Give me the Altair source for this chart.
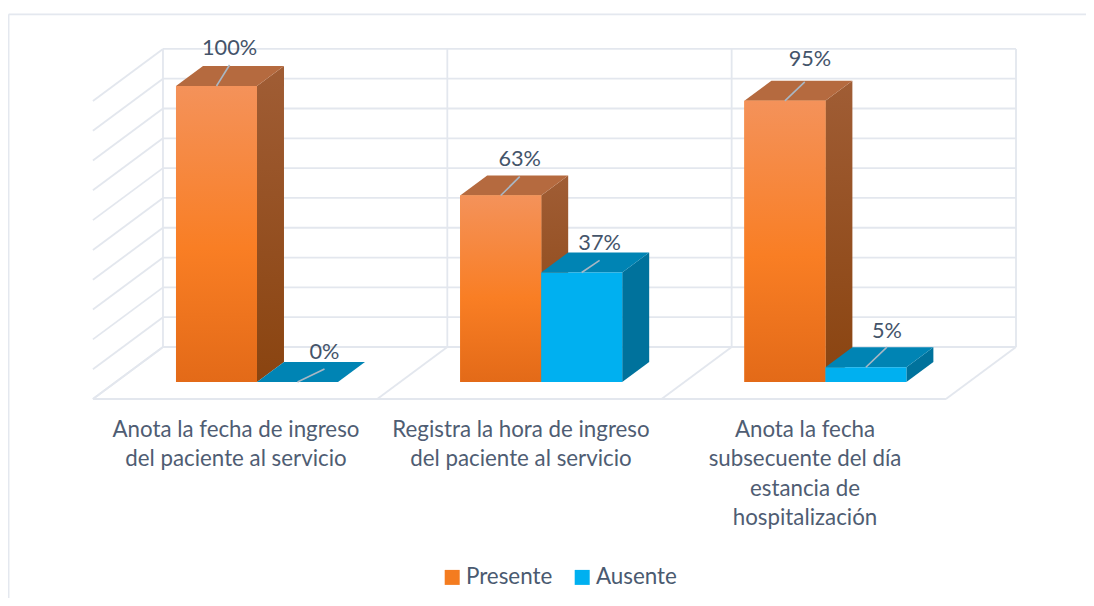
import altair as alt
import pandas as pd

categories = ["Anota la fecha de ingreso\ndel paciente al servicio",
              "Registra la hora de ingreso\ndel paciente al servicio",
              "Anota la fecha\nsubsecuente del día\nestancia de\nhospitalización"]
series = ["Presente", "Ausente"]
presente = [100, 63, 95]
ausente = [0, 37, 5]
presente_labels = ["100%", "63%", "95%"]
ausente_labels = ["0%", "37%", "5%"]
# leader line run/rise per bar, in group-widths and percentage points
lead_presente = [(0.046, 7.1), (0.067, 6.4), (0.070, 6.4)]
lead_ausente = [(0.095, 4.4), (0.063, 4.1), (0.074, 6.8)]
label_shift_presente = [(0.0, 5.7), (0.0, 6.0), (0.018, 7.7)]
label_shift_ausente = [(0.0, 5.7), (0.0, 6.0), (0.0, 5.4)]

FONT = "Lato"
GRID = "#e3e7ee"
TXT = "#44546a"
BAR_W = 0.285
DEPTH_U, DEPTH_V = 0.095, 6.76
WALL_U, WALL_V = 0.2465, 17.57
FLOOR_U, FLOOR_V = -0.2923, -5.74
TICK = 10.07
N = len(categories)

xs = alt.Scale(domain=[-0.5911, 3.2020], nice=False, zero=False)
ys = alt.Scale(domain=[-72.97, 126.35], nice=False, zero=False)
X = alt.X("x:Q", scale=xs, axis=None)
Y = alt.Y("y:Q", scale=ys, axis=None)

# grid, walls and frame
segs = []
back_u0 = FLOOR_U + WALL_U
back_v0 = FLOOR_V + WALL_V
back_step = 1.0005
for k in range(11):
    v = back_v0 + k * TICK
    segs.append((back_u0, v, back_u0 + N * back_step, v))
    segs.append((FLOOR_U, v - WALL_V, back_u0, v))
for i in range(N + 1):
    u = back_u0 + i * back_step
    segs.append((u, back_v0, u, back_v0 + 10 * TICK))
    segs.append((u, back_v0, u - WALL_U, FLOOR_V))
segs.append((FLOOR_U, FLOOR_V, back_u0 + N * back_step - WALL_U, FLOOR_V))
grid_df = pd.DataFrame(segs, columns=["x", "y", "x2", "y2"])
grid = alt.Chart(grid_df).mark_rule(color=GRID, strokeWidth=1.8).encode(x=X, y=Y, x2="x2:Q", y2="y2:Q")

frame_df = pd.DataFrame([(-0.589, 124.2, 3.2020, 124.2), (-0.589, 124.2, -0.589, -72.97)], columns=["x", "y", "x2", "y2"])
frame = alt.Chart(frame_df).mark_rule(color="#e4e8ef", strokeWidth=1.8).encode(x=X, y=Y, x2="x2:Q", y2="y2:Q")


def faces(values, offset):
    front, side, top = [], [], []
    for i, v in enumerate(values):
        x0 = i + offset
        x1 = x0 + BAR_W
        front.append(dict(x=x0, x2=x1, y=v, y2=0, s=series[0 if offset == 0 else 1]))
        side += [dict(id=i, x=x1, y=v, y2=0), dict(id=i, x=x1 + DEPTH_U, y=v + DEPTH_V, y2=DEPTH_V)]
        top += [dict(id=i, x=x0, y=v, y2=v),
                dict(id=i, x=x0 + DEPTH_U, y=v + DEPTH_V, y2=v),
                dict(id=i, x=x1, y=v + DEPTH_V, y2=v),
                dict(id=i, x=x1 + DEPTH_U, y=v + DEPTH_V, y2=v + DEPTH_V)]
    return pd.DataFrame(front), pd.DataFrame(side), pd.DataFrame(top)


def grad(*stops):
    return alt.Gradient(gradient="linear", x1=0, x2=0, y1=0, y2=1,
                        stops=[alt.GradientStop(offset=o, color=c) for o, c in stops])


def area(df, fill):
    return alt.Chart(df).mark_area(fill=fill, interpolate="linear", opacity=1).encode(
        x=X, y=Y, y2="y2:Q", detail="id:N")


color_scale = alt.Scale(domain=series, range=["#f47c20", "#00b0f0"])
legend = alt.Legend(title=None, orient="none", legendX=433, legendY=558, direction="horizontal",
                    symbolType="square", symbolSize=225, symbolStrokeWidth=0, labelFont=FONT, labelFontSize=22.4,
                    labelColor="#4a5a70", columnPadding=18, labelOffset=2.5, symbolOpacity=1)

of, os_, ot = faces(presente, 0)
af, as_, at = faces(ausente, BAR_W)

orange_side = area(os_, grad((0, "#a05d35"), (1, "#8a4410")))
orange_top = area(ot, "#b56a3f")
orange_front = alt.Chart(of).mark_rect().encode(x=X, x2="x2:Q", y=Y, y2="y2:Q", color=alt.Color("s:N", scale=color_scale, legend=legend))
orange_grad = alt.Chart(of).mark_rect(fill=grad((0, "#f4925a"), (0.55, "#f97e24"), (1, "#e36a18"))).encode(x=X, x2="x2:Q", y=Y, y2="y2:Q")
blue_side = area(as_, "#00729c")
blue_top = area(at, "#0084b4")
blue_front = alt.Chart(af).mark_rect().encode(x=X, x2="x2:Q", y=Y, y2="y2:Q", color=alt.Color("s:N", scale=color_scale, legend=legend))

leads, labels = [], []
for i in range(N):
    for vals, off, ld, lab, sh in ((presente, 0, lead_presente, presente_labels, label_shift_presente),
                                   (ausente, BAR_W, lead_ausente, ausente_labels, label_shift_ausente)):
        u0 = i + off + BAR_W / 2
        leads.append(dict(x=u0, y=vals[i], x2=u0 + ld[i][0], y2=vals[i] + ld[i][1]))
        labels.append(dict(x=u0 + ld[i][0] + sh[i][0], y=vals[i] + ld[i][1] + sh[i][1], t=lab[i]))
lead_chart = alt.Chart(pd.DataFrame(leads)).mark_rule(color="#a9b7c4", strokeWidth=1.6).encode(x=X, y=Y, x2="x2:Q", y2="y2:Q")
label_chart = alt.Chart(pd.DataFrame(labels)).mark_text(font=FONT, fontSize=21.7, color=TXT, baseline="middle").encode(x=X, y=Y, text="t:N")

cat_df = pd.DataFrame(dict(x=[0.211, 1.2139, 2.2132], y=[-16.2] * 3, t=categories))
cat_chart = alt.Chart(cat_df).mark_text(font=FONT, fontSize=22.3, color="#4f5d73", baseline="middle", lineBreak="\n", lineHeight=29.4).encode(x=X, y=Y, text="t:N")

chart = alt.layer(grid, frame, orange_side, orange_top, orange_front, orange_grad,
                  blue_side, blue_top, blue_front, lead_chart, label_chart, cat_chart).properties(
    width=1078, height=590, padding=0, autosize=alt.AutoSizeParams(type="none")
).configure_view(stroke=None)

chart.save("out.html", embed_options={"renderer": "svg", "actions": False})
